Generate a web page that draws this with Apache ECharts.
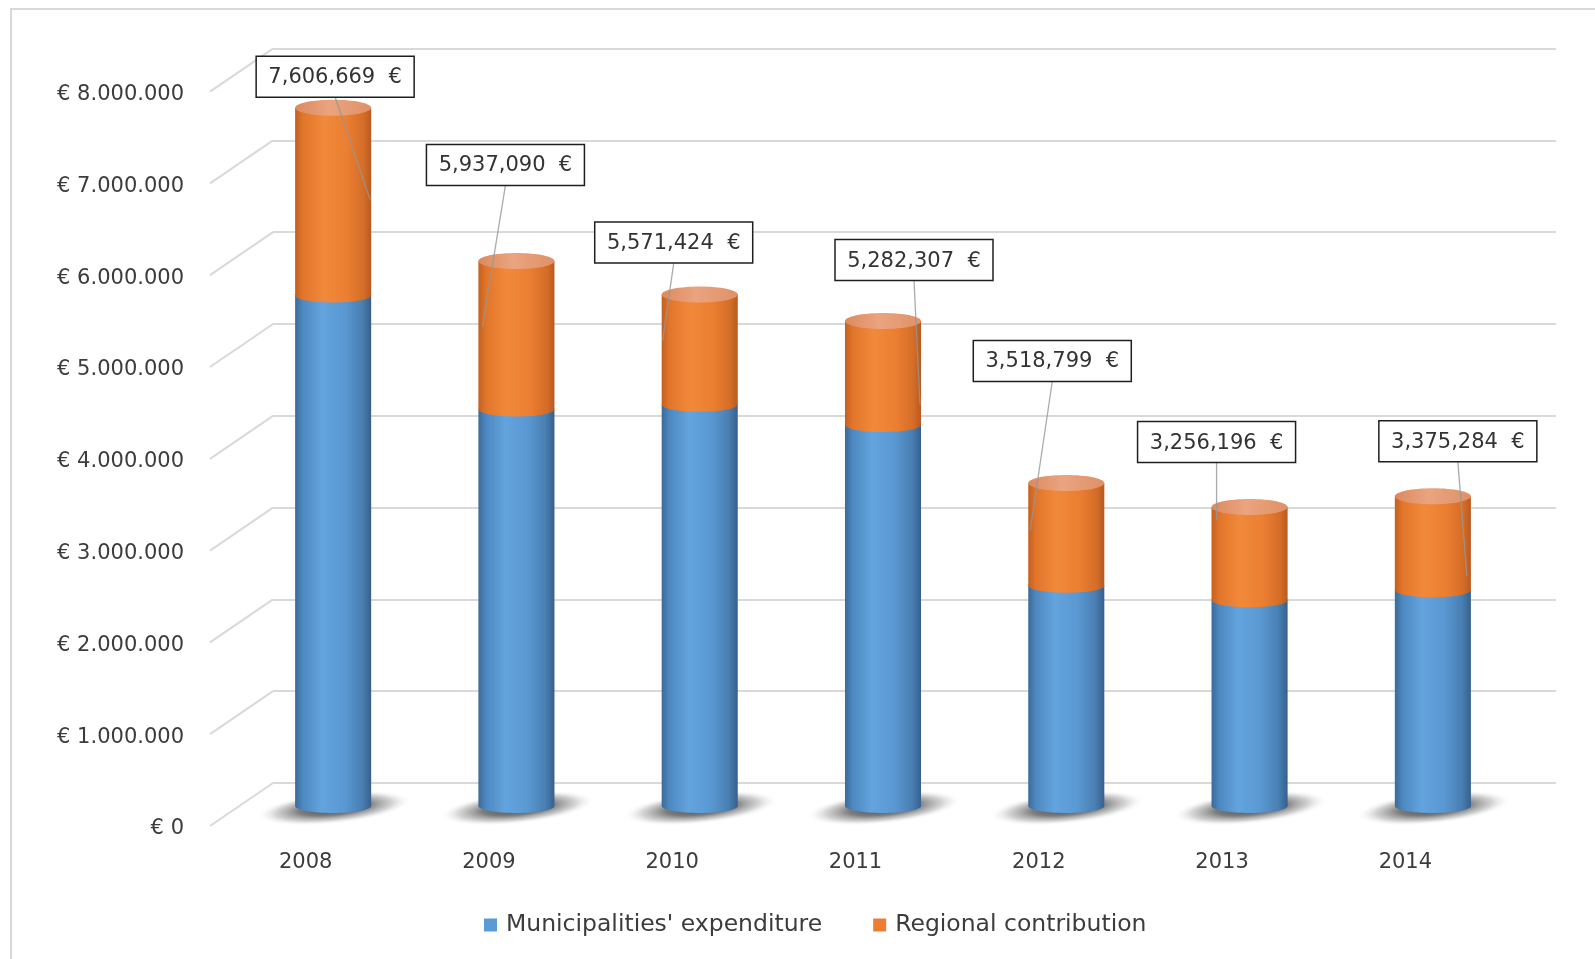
<!DOCTYPE html>
<html>
<head>
<meta charset="utf-8">
<script src="https://cdn.jsdelivr.net/npm/echarts@6/dist/echarts.min.js"></script>
<style>
  html, body { margin: 0; padding: 0; background: #ffffff; }
  #chart { width: 1595px; height: 959px; }
</style>
</head>
<body>
<div id="chart"></div>
<script>
// ---- data ----
const years = ['2008', '2009', '2010', '2011', '2012', '2013', '2014'];
const totalCost = [7606669, 5937090, 5571424, 5282307, 3518799, 3256196, 3375284];
const municipalities = [5560000, 4320000, 4370000, 4150000, 2400000, 2240000, 2350000];
const yTicks = [0, 1000000, 2000000, 3000000, 4000000, 5000000, 6000000, 7000000, 8000000];

// ---- label callout layout (pixel offsets from the top of each cylinder) ----
const labelBoxOffset = [[2, -31], [-11, -96], [-26, -52], [31, -61], [-14, -122], [-33, -65], [25, -55]];
const leaderEndOffset = [[37, 92], [-34, 66], [-37, 46], [37, 84], [-36, 47], [-33, 13], [34, 80]];

// ---- look ----
const FONT = '"DejaVu Sans", "Open Sans", sans-serif';
const TEXT = '#3c3c3c';
const GRID_LINE = '#d9d9d9';
const BLUE = '#5b9bd5';
const ORANGE = '#ed7d31';
const PLOT_W = 1283, PLOT_H = 734.4;
const DEPTH_X = 63, DEPTH_Y = 43;   // oblique depth of the floor / side wall
const BAR_RATIO = 0.415;
const CAP_RY = 8;

function hGrad(stops) {
  return { type: 'linear', x: 0, y: 0, x2: 1, y2: 0,
    colorStops: stops.map(s => ({ offset: s[0], color: s[1] })) };
}
const blueBody = hGrad([[0, '#3b6a98'], [0.1, '#4d88c0'], [0.35, '#63a3de'], [0.65, '#5a98d2'], [0.88, '#497fb3'], [1, '#37608a']]);
const orangeBody = hGrad([[0, '#c45f1f'], [0.1, '#e1762b'], [0.38, '#f1893a'], [0.68, '#eb7e31'], [0.9, '#d46d28'], [1, '#b95a20']]);
const orangeCap = hGrad([[0, '#dc8a5f'], [0.45, '#eaa47f'], [1, '#df9167']]);
const shadowFill = { type: 'radial', x: 0.5, y: 0.5, r: 0.5, colorStops: [
  { offset: 0, color: 'rgba(30,30,30,0.85)' },
  { offset: 0.45, color: 'rgba(55,55,55,0.65)' },
  { offset: 0.75, color: 'rgba(100,100,100,0.28)' },
  { offset: 1, color: 'rgba(255,255,255,0)' }
] };

function euro(v) {
  return '€ ' + String(v).replace(/\B(?=(\d{3})+(?!\d))/g, '.');
}
function amount(v) {
  return String(v).replace(/\B(?=(\d{3})+(?!\d))/g, ',') + '  €';
}

const hiddenX = (gi) => ({ type: 'category', gridIndex: gi, data: years, show: false });
const hiddenY = (gi) => ({ type: 'value', gridIndex: gi, min: 0, max: 8000000, interval: 1000000, show: false });

const chart = echarts.init(document.getElementById('chart'), null, { renderer: 'canvas' });

chart.setOption({
  backgroundColor: '#ffffff',
  animation: false,
  textStyle: { fontFamily: FONT },
  graphic: [{
    type: 'rect', silent: true, z: -10,
    shape: { x: 11, y: 9, width: 1620, height: 1000 },
    style: { fill: 'none', stroke: GRID_LINE, lineWidth: 2 }
  }],
  legend: {
    left: 479, top: 908,
    icon: 'rect', itemWidth: 13, itemHeight: 13, itemGap: 51,
    textStyle: { fontSize: 23.5, color: TEXT, fontFamily: FONT, padding: [0, 0, 0, 4] },
    data: ["Municipalities' expenditure", 'Regional contribution']
  },
  grid: [
    { left: 214, top: 94.6, width: PLOT_W, height: PLOT_H },   // front edge: axis labels
    { left: 241.5, top: 71.6, width: PLOT_W, height: PLOT_H }, // middle depth: cylinders
    { left: 273, top: 48.6, width: PLOT_W, height: PLOT_H }    // back wall: gridlines
  ],
  xAxis: [
    { type: 'category', gridIndex: 0, data: years,
      axisLine: { show: false }, axisTick: { show: false },
      axisLabel: { fontSize: 21, color: TEXT, margin: 23, fontFamily: FONT } },
    hiddenX(1),
    hiddenX(2)
  ],
  yAxis: [
    { type: 'value', gridIndex: 0, min: 0, max: 8000000, interval: 1000000,
      axisLine: { show: false }, axisTick: { show: false }, splitLine: { show: false },
      axisLabel: { fontSize: 21, color: TEXT, margin: 30, fontFamily: FONT, formatter: euro } },
    hiddenY(1),
    { type: 'value', gridIndex: 2, min: 0, max: 8000000, interval: 1000000,
      axisLine: { show: false }, axisTick: { show: false }, axisLabel: { show: false },
      splitLine: { show: true, lineStyle: { color: GRID_LINE, width: 2 } } }
  ],
  series: [
    // side wall: slanted lines joining each back gridline to the front edge
    {
      type: 'custom', xAxisIndex: 2, yAxisIndex: 2, silent: true, z: 1,
      data: yTicks.map(v => [0, v]),
      renderItem: function (params, api) {
        const p = api.coord([0, api.value(1)]);
        const left = p[0] - api.size([1, 0])[0] / 2;
        return { type: 'line',
          shape: { x1: left, y1: p[1], x2: left - DEPTH_X, y2: p[1] + DEPTH_Y },
          style: { stroke: GRID_LINE, lineWidth: 2 } };
      }
    },
    // lower cylinders with their floor shadows
    {
      name: "Municipalities' expenditure",
      type: 'custom', xAxisIndex: 1, yAxisIndex: 1, z: 3,
      itemStyle: { color: BLUE },
      encode: { x: 0, y: 1 },
      data: municipalities.map((v, i) => [i, v]),
      renderItem: function (params, api) {
        const i = api.value(0);
        const base = api.coord([i, 0]);
        const top = api.coord([i, api.value(1)]);
        const r = api.size([1, 0])[0] * BAR_RATIO / 2;
        const cx = base[0];
        const sR = r + 40, sx = cx + 1, sy = base[1] + 2;
        return { type: 'group', children: [
          { type: 'circle', silent: true,
            x: sx, y: sy, scaleY: 16 / sR, rotation: 0.1,
            shape: { cx: 0, cy: 0, r: sR },
            style: { fill: shadowFill } },
          { type: 'ellipse', shape: { cx: cx, cy: base[1], rx: r, ry: CAP_RY - 1 },
            style: { fill: blueBody } },
          { type: 'rect', shape: { x: cx - r, y: top[1], width: 2 * r, height: base[1] - top[1] },
            style: { fill: blueBody } }
        ] };
      }
    },
    // upper cylinders, topped at the labelled totals
    {
      name: 'Regional contribution',
      type: 'custom', xAxisIndex: 1, yAxisIndex: 1, z: 4,
      itemStyle: { color: ORANGE },
      encode: { x: 0, y: [1, 2] },
      data: municipalities.map((v, i) => [i, v, totalCost[i]]),
      renderItem: function (params, api) {
        const i = api.value(0);
        const low = api.coord([i, api.value(1)]);
        const high = api.coord([i, api.value(2)]);
        const r = api.size([1, 0])[0] * BAR_RATIO / 2;
        const cx = low[0];
        return { type: 'group', children: [
          { type: 'ellipse', shape: { cx: cx, cy: low[1], rx: r, ry: CAP_RY - 1 },
            style: { fill: orangeBody } },
          { type: 'rect', shape: { x: cx - r, y: high[1], width: 2 * r, height: low[1] - high[1] },
            style: { fill: orangeBody } },
          { type: 'ellipse', shape: { cx: cx, cy: high[1], rx: r, ry: CAP_RY },
            style: { fill: orangeCap } }
        ] };
      }
    },
    // total callouts with leader lines
    {
      type: 'custom', xAxisIndex: 1, yAxisIndex: 1, z: 6, silent: true,
      data: totalCost.map((v, i) => [i, v]),
      renderItem: function (params, api) {
        const i = api.value(0);
        const v = api.value(1);
        const top = api.coord([i, v]);
        const bw = 158, bh = 41;
        const bx = top[0] + labelBoxOffset[i][0];
        const by = top[1] + labelBoxOffset[i][1];
        return { type: 'group', children: [
          { type: 'line',
            shape: { x1: bx, y1: by + bh / 2, x2: top[0] + leaderEndOffset[i][0], y2: top[1] + leaderEndOffset[i][1] },
            style: { stroke: 'rgba(150,150,150,0.8)', lineWidth: 1.3 } },
          { type: 'rect', shape: { x: bx - bw / 2, y: by - bh / 2, width: bw, height: bh },
            style: { fill: '#ffffff', stroke: '#1f1f1f', lineWidth: 1.5 } },
          { type: 'text',
            style: { text: amount(v), x: bx, y: by + 1, align: 'center', verticalAlign: 'middle',
              fontSize: 21, fontFamily: FONT, fill: '#333333' } }
        ] };
      }
    }
  ]
});
</script>
</body>
</html>
